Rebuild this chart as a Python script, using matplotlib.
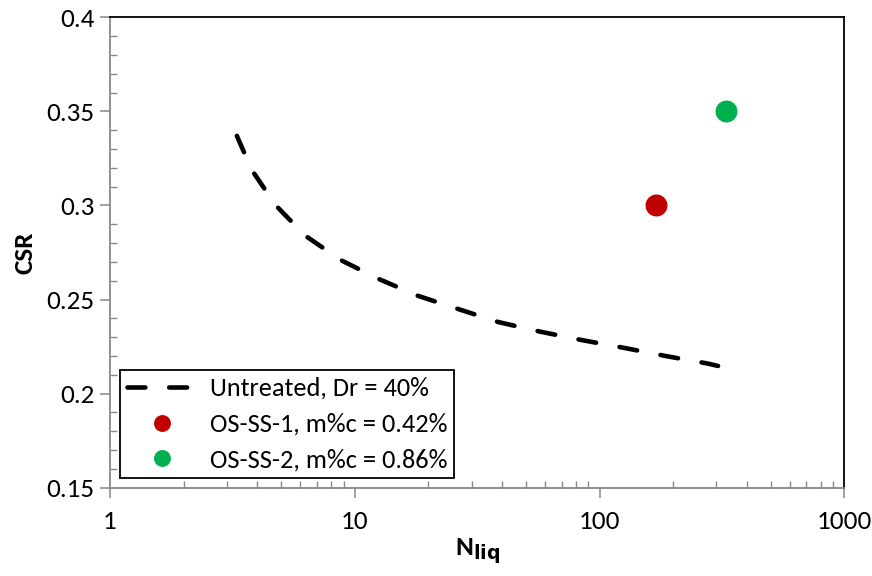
import matplotlib
matplotlib.use("Agg")
import matplotlib.pyplot as plt
from matplotlib.ticker import FixedLocator, NullFormatter, FuncFormatter

plt.rcParams['font.family'] = ['Carlito', 'Lato', 'DejaVu Sans']

# Untreated sand curve (Dr = 40%)
untreated_n = [3.30, 3.79, 4.76, 6.27, 8.76, 12.5, 18.1, 26.4, 38.7, 56.9,
               84.3, 125, 186, 276, 305]
untreated_csr = [0.337, 0.319, 0.300, 0.284, 0.271, 0.261, 0.252, 0.245,
                 0.238, 0.233, 0.2285, 0.2244, 0.220, 0.216, 0.2147]

# Treated specimens
ss1_n = [170]
ss1_csr = [0.30]
ss2_n = [330]
ss2_csr = [0.35]

labels = ["Untreated, Dr = 40%", "OS-SS-1, m%c = 0.42%", "OS-SS-2, m%c = 0.86%"]

fs = 19.5
fs_leg = 19

fig = plt.figure(figsize=(8.72, 5.76), dpi=100)
ax = fig.add_axes([0.1261, 0.1533, 0.8421, 0.8167])

ax.plot(untreated_n, untreated_csr, color='black', lw=3.3,
        linestyle=(0, (3.9, 5.2)), dash_capstyle='round', label=labels[0])
ax.plot(ss1_n, ss1_csr, 'o', color='#C00000', ms=15.8, mec='none', label=labels[1])
ax.plot(ss2_n, ss2_csr, 'o', color='#00B050', ms=15.8, mec='none', label=labels[2])

ax.set_xscale('log')
ax.set_xlim(1, 1000)
ax.set_ylim(0.15, 0.4)

gray = '#888888'
ax.spines['left'].set_color(gray)
ax.spines['bottom'].set_color(gray)
ax.spines['top'].set_color('black')
ax.spines['right'].set_color('black')
for s in ax.spines.values():
    s.set_linewidth(1.3)

ax.xaxis.set_major_locator(FixedLocator([1, 10, 100, 1000]))
ax.xaxis.set_minor_locator(FixedLocator([m * d for d in (1, 10, 100) for m in range(2, 10)]))
ax.xaxis.set_major_formatter(FuncFormatter(lambda v, p: f"{v:g}"))
ax.xaxis.set_minor_formatter(NullFormatter())

ax.yaxis.set_major_locator(FixedLocator([0.15, 0.2, 0.25, 0.3, 0.35, 0.4]))
ax.yaxis.set_minor_locator(FixedLocator([0.15 + 0.01 * i for i in range(26)]))
ax.yaxis.set_major_formatter(FuncFormatter(lambda v, p: f"{v:g}"))

ax.tick_params(which='major', direction='out', length=7, width=1.1, color=gray,
               labelsize=fs, pad=4, labelcolor='black')
ax.tick_params(which='minor', direction='in', length=5, width=1.0, color=gray)
ax.tick_params(axis='x', which='major', pad=9)
ax.tick_params(top=False, right=False, which='both')

ax.set_ylabel('CSR', fontsize=fs, fontweight='bold', labelpad=7)
ax.set_xlabel(r'N$_{\mathbf{liq}}$', fontsize=fs, fontweight='bold', labelpad=3)

leg = ax.legend(loc='lower left', bbox_to_anchor=(0.0136, 0.02), borderaxespad=0,
                fancybox=False, edgecolor='black', framealpha=1, fontsize=fs_leg,
                markerscale=0.77, handlelength=2.65, handletextpad=0.5,
                labelspacing=0.49, borderpad=0.25)
leg.get_frame().set_linewidth(1.3)

fig.savefig('out.png', dpi=100)
